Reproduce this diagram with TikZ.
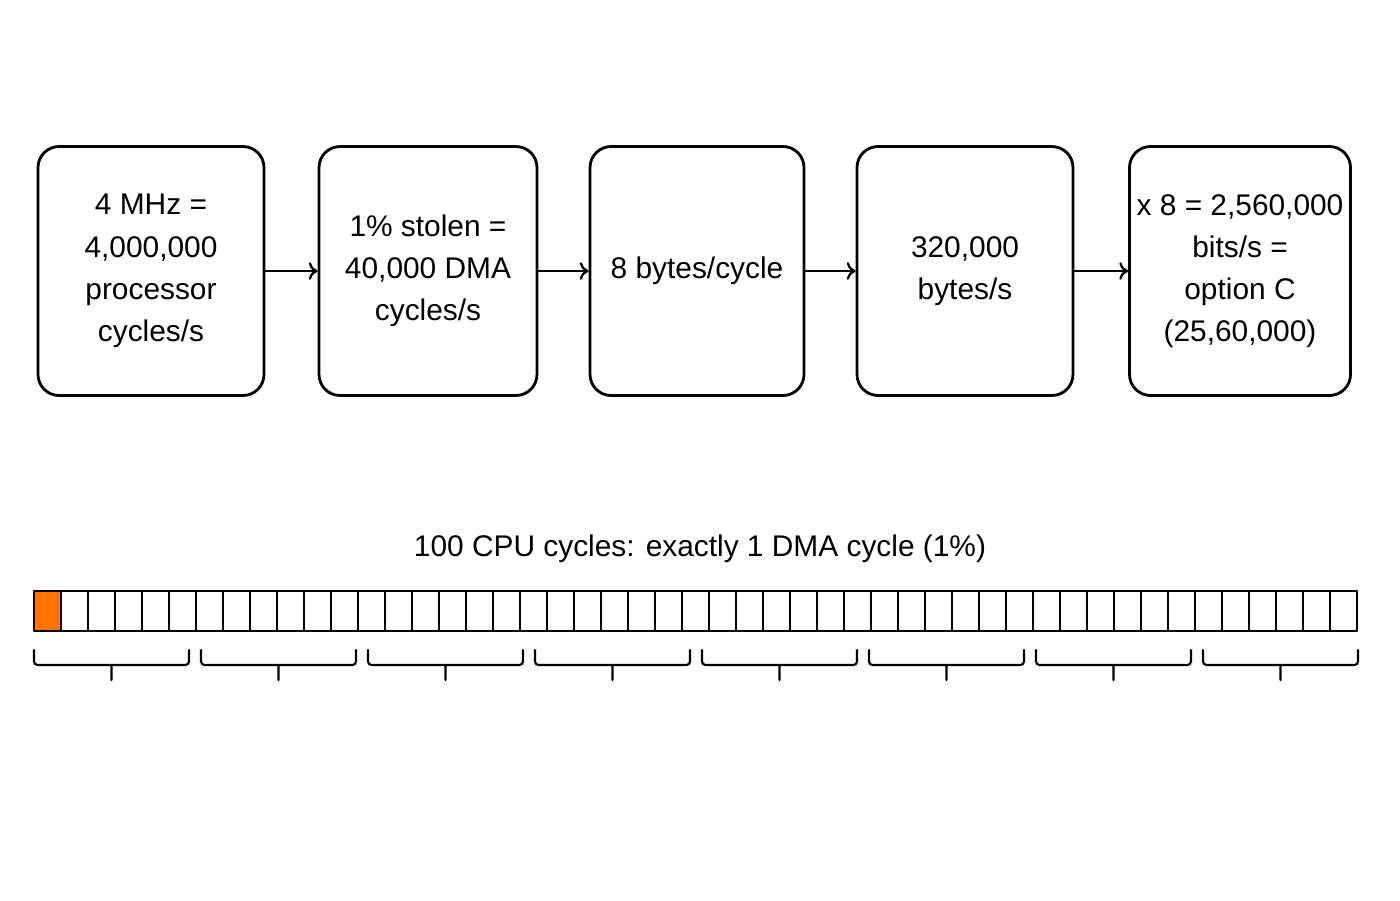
\documentclass[tikz,border=0pt]{standalone}
\usepackage{fontspec}
\setmainfont{Liberation Sans}
\usetikzlibrary{arrows.meta, positioning}
\tikzset{
  stage/.style={draw, line width=1.6pt, rounded corners=12pt, align=center,
    minimum height=249*0.02cm, inner sep=0pt, font=\fontsize{17}{24}\selectfont},
  flow/.style={-{To[length=5pt,width=10pt]}, line width=1.3pt},
  cell/.style={draw, line width=1.2pt},
  brace/.style={line width=1.2pt, rounded corners=2pt}
}
\begin{document}
\begin{tikzpicture}[x=0.02cm, y=-0.02cm, line cap=round, line join=round]
        \useasboundingbox (0,0) rectangle (1400,900);
        % chain of stages
        \node[stage, minimum width=226*0.02cm] (mhz) at (151,271) {4 MHz =\\4,000,000\\processor\\cycles/s};
        \node[stage, minimum width=218*0.02cm] (stolen) at (428,271) {1\% stolen =\\40,000 DMA\\cycles/s};
        \node[stage, minimum width=214*0.02cm] (bytes) at (697,271) {8 bytes/cycle};
        \node[stage, minimum width=216*0.02cm] (rate) at (965,271) {320,000\\bytes/s};
        \node[stage, minimum width=221*0.02cm] (bits) at (1240,271) {x 8 = 2,560,000\\bits/s =\\option C\\(25,60,000)};

        \draw[flow] (mhz) -- (stolen);
        \draw[flow] (stolen) -- (bytes);
        \draw[flow] (bytes) -- (rate);
        \draw[flow] (rate) -- (bits);

        % strip of cycles
        \node[font=\fontsize{17}{20}\selectfont] (title) at (700,549) {100 CPU cycles: exactly 1 DMA cycle (1\%)};
        \fill[orange!90!red] (34,591) rectangle (61,631);
        \foreach \i in {1,...,48}
          \draw[cell] ({34+\i*27},591) -- ({34+\i*27},631);
        \draw[cell] (34,591) rectangle (1357,631);

        % group braces
        \foreach \i in {0,...,7}
          \draw[brace] ({34+\i*167},650) -- ({34+\i*167},665) -- ({189+\i*167},665) -- ({189+\i*167},650)
            ({111.5+\i*167},665) -- ({111.5+\i*167},680);
    \end{tikzpicture}
\end{document}
